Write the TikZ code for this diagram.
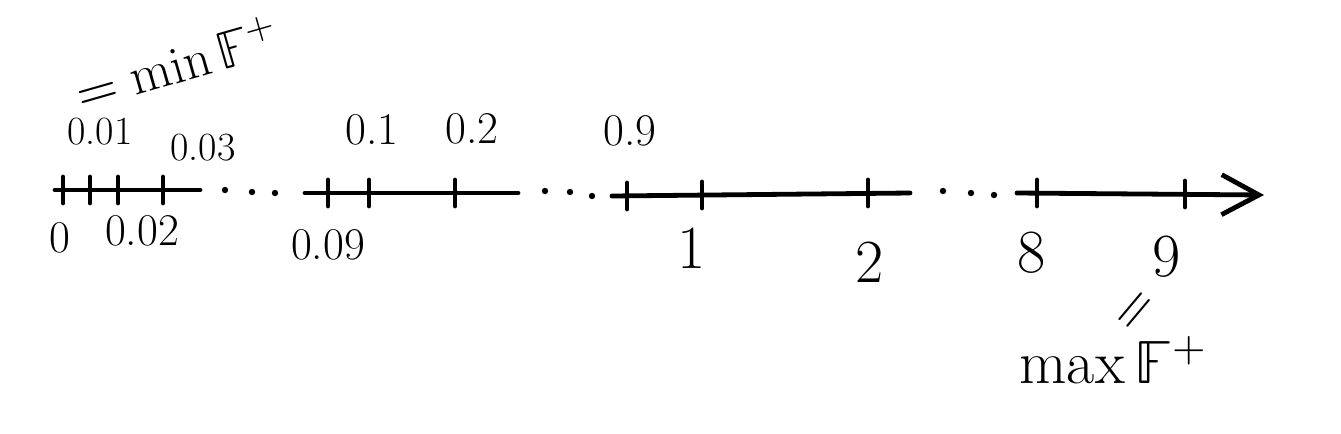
\documentclass[tikz,border=0pt]{standalone}
\usepackage{unicode-math}
\usepackage{tikz}
\usetikzlibrary{arrows.meta}

\begin{document}
\begin{tikzpicture}[x=0.75pt, y=-0.75pt, line width=3.6pt, line cap=round,
  lbl/.style={inner sep=0pt},
  lblsmall/.style={lbl, font=\fontsize{30}{33}\selectfont},
  lblmid/.style={lbl, font=\fontsize{34}{38}\selectfont},
  lblbig/.style={lbl, font=\fontsize{46}{50}\selectfont},
  lblbound/.style={lbl, font=\fontsize{40}{44}\selectfont},
  axarrow/.style={-{Straight Barb[length=28pt, width=30pt]}}]
  \useasboundingbox (0,0) rectangle (1341,433);
  % axis pieces
  \draw (55,190) -- (200,190);
  \draw (305,193) -- (518,193);
  \draw (612,196) -- (910,193);
  \draw[axarrow] (1017,193) -- (1264,195);
  \foreach \x/\y in {63/190, 90/190, 118/190, 163/190, 328/193, 369/193, 455/193,
                     627/196, 702/195, 868/193, 1037/193, 1185/194}
    \draw (\x,\y-13) -- (\x,\y+13);
  % gaps
  \foreach \x/\y in {225/190, 252/192, 275/193, 545/191, 570/192, 592/196,
                     943/191, 971/193, 994/195}
    \fill (\x,\y) circle (2.4pt);
  % labels above
  \node[lblsmall] (l001) at (100,132) {0.01};
  \node[lblsmall] (l003) at (203,148) {0.03};
  \node[lblmid] (l01) at (372,130) {0.1};
  \node[lblmid] (l02) at (472,129) {0.2};
  \node[lblmid] (l09) at (630,131) {0.9};
  % labels below
  \node[lblmid] (l0) at (60,238) {0};
  \node[lblmid] (l002) at (142,231) {0.02};
  \node[lblmid] (l009) at (328,245) {0.09};
  \node[lblbig] (l1) at (692,248) {1};
  \node[lblbig] (l2) at (870,262) {2};
  \node[lblbig] (l8) at (1032,253) {8};
  \node[lblbig] (l9) at (1167,257) {9};
  % min and max
  \node[lblbound, rotate=16, anchor=south west] (min) at (80,114) {$=\min\mathbb{F}^+$};
  \node[lblbound, rotate=50] (eq) at (1137,312) {$=$};
  \node[lblbound, font=\fontsize{46}{50}\selectfont] (max) at (1113,360) {$\max\mathbb{F}^+$};
\end{tikzpicture}
\end{document}
